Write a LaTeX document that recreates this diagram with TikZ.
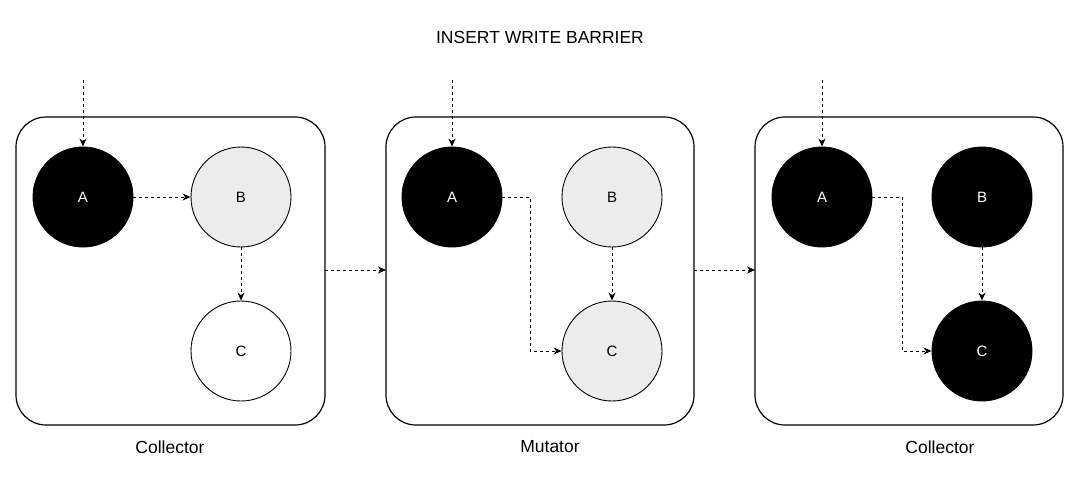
\documentclass[tikz,border=0pt]{standalone}
\usepackage{fontspec}
\setmainfont{Liberation Sans}
\usetikzlibrary{arrows.meta}
\begin{document}
\begin{tikzpicture}[x=1pt,y=-1pt,
  box/.style={draw,line width=1.2pt,rounded corners=30pt},
  blk/.style={circle,draw,line width=0.9pt,minimum size=100pt,inner sep=0pt,fill=black,text=white,font=\fontsize{15}{15}\selectfont},
  gry/.style={blk,fill=gray!15,text=black},
  wht/.style={blk,fill=white,text=black},
  arr/.style={dashed,line width=1pt,-{Stealth[length=8pt,width=7pt]}},
  lbl/.style={font=\fontsize{17.5}{17.5}\selectfont}]
\useasboundingbox (0,0) rectangle (1080,483);
\node[lbl] (t) at (540,37) {INSERT WRITE BARRIER};
\draw[box] (16,117) rectangle (325,425);
\draw[box] (386,117) rectangle (694,425);
\draw[box] (755,117) rectangle (1063,425);
\coordinate (b1r) at (325,270); \coordinate (b2l) at (386,270);
\coordinate (b2r) at (694,270); \coordinate (b3l) at (755,270);
\node[blk] (a1) at (83,197) {A};
\node[gry] (b1) at (241,197) {B};
\node[wht] (c1) at (241,351) {C};
\node[blk] (a2) at (452,197) {A};
\node[gry] (b2) at (612,197) {B};
\node[gry] (c2) at (612,351) {C};
\node[blk] (a3) at (822,197) {A};
\node[blk] (b3) at (982,197) {B};
\node[blk] (c3) at (982,351) {C};
\coordinate (e1) at (83,80); \coordinate (e2) at (452,80); \coordinate (e3) at (822,80);
\draw[arr] (e1) -- (a1);
\draw[arr] (e2) -- (a2);
\draw[arr] (e3) -- (a3);
\draw[arr] (a1) -- (b1);
\draw[arr] (b1) -- (c1);
\draw[arr] (b2) -- (c2);
\draw[arr] (b3) -- (c3);
\draw[arr] (a2.east) -- (530,197) -- (530,351) -- (c2.west);
\draw[arr] (a3.east) -- (902,197) -- (902,351) -- (c3.west);
\draw[arr] (b1r) -- (b2l);
\draw[arr] (b2r) -- (b3l);
\node[lbl] (l1) at (170,447) {Collector};
\node[lbl] (l2) at (550,447) {Mutator};
\node[lbl] (l3) at (940,447) {Collector};
\end{tikzpicture}
\end{document}
